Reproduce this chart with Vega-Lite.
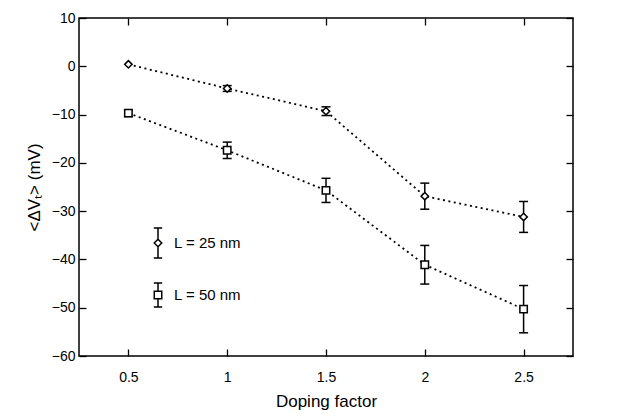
{
  "$schema": "https://vega.github.io/schema/vega-lite/v6.json",
  "width": 494,
  "height": 338,
  "autosize": {"type": "none"},
  "padding": {"left": 79, "top": 18, "right": 65, "bottom": 61},
  "background": "white",
  "config": {
    "font": "Liberation Sans",
    "view": {"stroke": "black", "strokeWidth": 1.5},
    "axis": {
      "grid": false,
      "domain": false,
      "tickColor": "black",
      "tickSize": -7,
      "tickWidth": 1.3,
      "labelColor": "black",
      "labelFontSize": 14,
      "titleColor": "black",
      "titleFontSize": 17,
      "titleFontWeight": "normal"
    }
  },
  "data": {
    "values": [
      {"x": 0.5, "series": "L = 25 nm", "v": 0.4, "lo": null, "hi": null},
      {"x": 1.0, "series": "L = 25 nm", "v": -4.6, "lo": -5.2, "hi": -4.0},
      {"x": 1.5, "series": "L = 25 nm", "v": -9.3, "lo": -10.2, "hi": -8.4},
      {"x": 2.0, "series": "L = 25 nm", "v": -26.9, "lo": -29.6, "hi": -24.2},
      {"x": 2.5, "series": "L = 25 nm", "v": -31.2, "lo": -34.4, "hi": -28.0},
      {"x": 0.5, "series": "L = 50 nm", "v": -9.7, "lo": -10.4, "hi": -9.0},
      {"x": 1.0, "series": "L = 50 nm", "v": -17.4, "lo": -19.1, "hi": -15.7},
      {"x": 1.5, "series": "L = 50 nm", "v": -25.7, "lo": -28.2, "hi": -23.2},
      {"x": 2.0, "series": "L = 50 nm", "v": -41.1, "lo": -45.1, "hi": -37.1},
      {"x": 2.5, "series": "L = 50 nm", "v": -50.3, "lo": -55.2, "hi": -45.4}
    ]
  },
  "layer": [
    {
      "mark": {"type": "line", "color": "black", "strokeWidth": 1.8, "strokeDash": [2, 3.5]},
      "encoding": {
        "x": {"field": "x", "type": "quantitative", "scale": {"domain": [0.25, 2.75], "nice": false, "zero": false},
              "axis": {"orient": "bottom", "values": [0.5, 1, 1.5, 2, 2.5], "format": "~g", "labelPadding": 21, "title": "Doping factor", "titlePadding": 9}},
        "y": {"field": "v", "type": "quantitative", "scale": {"domain": [-60, 10], "nice": false, "zero": false},
              "axis": {"orient": "left", "values": [10, 0, -10, -20, -30, -40, -50, -60], "labelPadding": 11, "title": "<ΔVₜ> (mV)", "titlePadding": 8}},
        "detail": {"field": "series"}
      }
    },
    {
      "mark": {"type": "rule", "color": "black", "strokeWidth": 1.5},
      "encoding": {
        "x": {"field": "x", "type": "quantitative", "axis": null},
        "y": {"field": "lo", "type": "quantitative", "axis": null},
        "y2": {"field": "hi"}
      }
    },
    {
      "mark": {"type": "tick", "orient": "horizontal", "color": "black", "size": 9, "thickness": 1.5, "opacity": 1},
      "encoding": {
        "x": {"field": "x", "type": "quantitative", "axis": null},
        "y": {"field": "lo", "type": "quantitative", "axis": null}
      }
    },
    {
      "mark": {"type": "tick", "orient": "horizontal", "color": "black", "size": 9, "thickness": 1.5, "opacity": 1},
      "encoding": {
        "x": {"field": "x", "type": "quantitative", "axis": null},
        "y": {"field": "hi", "type": "quantitative", "axis": null}
      }
    },
    {
      "mark": {"type": "point", "filled": false, "fill": "white", "stroke": "black", "strokeWidth": 1.5, "opacity": 1, "size": 55},
      "encoding": {
        "x": {"field": "x", "type": "quantitative", "axis": null},
        "y": {"field": "v", "type": "quantitative", "axis": null},
        "shape": {"field": "series", "type": "nominal", "scale": {"domain": ["L = 25 nm", "L = 50 nm"], "range": ["diamond", "square"]}, "legend": null}
      }
    },
    {
      "mark": {"type": "point", "filled": false, "stroke": "black", "opacity": 0, "size": 900},
      "encoding": {
        "x": {"field": "x", "type": "quantitative", "axis": null},
        "y": {"field": "v", "type": "quantitative", "axis": null},
        "size": {"value": 900},
        "shape": {
          "field": "series", "type": "nominal",
          "scale": {"domain": ["L = 25 nm", "L = 50 nm"],
                    "range": ["M0,-1L0,-0.25M0,0.25L0,1M-0.28,-1L0.28,-1M-0.28,1L0.28,1M0,-0.25L0.25,0L0,0.25L-0.25,0Z",
                              "M0,-0.8L0,-0.25M0,0.25L0,0.8M-0.28,-0.8L0.28,-0.8M-0.28,0.8L0.28,0.8M-0.25,-0.25L0.25,-0.25L0.25,0.25L-0.25,0.25Z"]},
          "legend": {
            "title": null,
            "orient": "none",
            "legendX": 63,
            "legendY": 209,
            "padding": 0,
            "symbolSize": 900,
            "symbolOpacity": 1,
            "symbolStrokeColor": "black",
            "symbolStrokeWidth": 1.5,
            "symbolFillColor": "white",
            "labelFontSize": 15,
            "labelColor": "black",
            "labelOffset": 0,
            "rowPadding": 18
          }
        }
      }
    },
    {
      "mark": {"type": "point", "opacity": 0},
      "encoding": {
        "x": {"field": "x", "type": "quantitative", "axis": {"orient": "top", "values": [0.5, 1, 1.5, 2, 2.5], "labels": false, "title": null}},
        "y": {"field": "v", "type": "quantitative", "axis": {"orient": "right", "values": [10, 0, -10, -20, -30, -40, -50, -60], "labels": false, "title": null}}
      }
    }
  ],
  "resolve": {"scale": {"shape": "independent"}, "axis": {"x": "independent", "y": "independent"}}
}
